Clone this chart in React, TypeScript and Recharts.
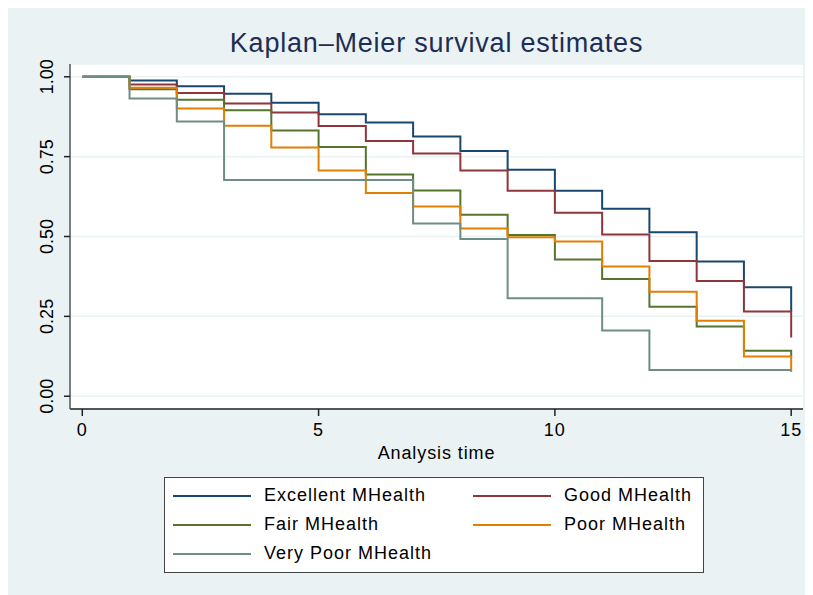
import { LineChart, Line, XAxis, YAxis, CartesianGrid } from 'recharts';

const times = [0, 1, 2, 3, 4, 5, 6, 7, 8, 9, 10, 11, 12, 13, 14, 15];

const excellent = [1, 0.988, 0.97, 0.947, 0.919, 0.883, 0.857, 0.813, 0.768, 0.709, 0.643, 0.587, 0.513, 0.422, 0.341, 0.265];
const good = [1, 0.976, 0.949, 0.916, 0.888, 0.846, 0.799, 0.76, 0.707, 0.643, 0.574, 0.506, 0.423, 0.361, 0.265, 0.184];
const fair = [1, 0.961, 0.928, 0.895, 0.832, 0.78, 0.694, 0.644, 0.568, 0.505, 0.428, 0.367, 0.28, 0.218, 0.142, 0.124];
const poor = [1, 0.966, 0.901, 0.847, 0.779, 0.707, 0.636, 0.594, 0.525, 0.498, 0.484, 0.406, 0.327, 0.236, 0.124, 0.076];
const veryPoor = [1, 0.932, 0.86, 0.677, 0.677, 0.677, 0.677, 0.541, 0.492, 0.307, 0.307, 0.206, 0.082, 0.082, 0.082, 0.082];

const xTicks = [0, 5, 10, 15];
const yTicks = [0, 0.25, 0.5, 0.75, 1];

const SERIES = [
  { key: 'excellent', name: 'Excellent MHealth', color: '#1A476F', values: excellent },
  { key: 'good', name: 'Good MHealth', color: '#90353B', values: good },
  { key: 'fair', name: 'Fair MHealth', color: '#55752F', values: fair },
  { key: 'poor', name: 'Poor MHealth', color: '#E37E00', values: poor },
  { key: 'veryPoor', name: 'Very Poor MHealth', color: '#6E8E84', values: veryPoor },
];

const data = times.map((t, i) => {
  const row: Record<string, number> = { t };
  SERIES.forEach((s) => {
    row[s.key] = s.values[i];
  });
  return row;
});

const FONT = '"Liberation Sans", Arial, sans-serif';

const YTick = ({ x, y, payload }: any) => (
  <text
    x={x - 11}
    y={y}
    transform={`rotate(-90, ${x - 11}, ${y})`}
    textAnchor="middle"
    fontSize={18}
    fill="#000"
    fontFamily={FONT}
  >
    {Number(payload.value).toFixed(2)}
  </text>
);

const XTick = ({ x, y, payload }: any) => (
  <text x={x} y={y} dy="0.71em" textAnchor="middle" fontSize={18} fill="#000" fontFamily={FONT} letterSpacing={1}>
    {payload.value}
  </text>
);

// two columns per row, like the stata legend
const LegendRow = ({ items }: { items: typeof SERIES }) => (
  <div style={{ display: 'flex', height: 29, alignItems: 'center' }}>
    {items.map((s) => (
      <div key={s.key} style={{ display: 'flex', alignItems: 'center', width: 300, flexShrink: 0 }}>
        <div style={{ width: 78, height: 2, background: s.color, marginLeft: 8, marginRight: 13, flexShrink: 0 }} />
        <span style={{ fontSize: 18, letterSpacing: 1, color: '#000', whiteSpace: 'nowrap' }}>{s.name}</span>
      </div>
    ))}
  </div>
);

export default function App() {
  return (
    <div
      style={{
        position: 'relative',
        width: 805,
        height: 587,
        background: '#EAF2F3',
        fontFamily: FONT,
      }}
    >
      <div
        style={{
          position: 'absolute',
          left: 62,
          width: 733,
          top: 22,
          textAlign: 'center',
          fontSize: 27,
          lineHeight: '27px',
          letterSpacing: 0.8,
          color: '#1E2D53',
        }}
      >
        Kaplan–Meier survival estimates
      </div>
      <LineChart width={805} height={587} data={data} margin={{ top: 56, right: 10, bottom: 156, left: 0 }}>
        <CartesianGrid vertical={false} stroke="#EAF2F3" strokeWidth={1.5} fill="#ffffff" />
        <XAxis
          dataKey="t"
          type="number"
          domain={[-0.26, 15.25]}
          allowDataOverflow
          ticks={xTicks}
          tickSize={7}
          tickMargin={7}
          axisLine={{ stroke: '#222', strokeWidth: 1.5 }}
          tickLine={{ stroke: '#222', strokeWidth: 1.5 }}
          tick={<XTick />}
          height={30}
        />
        <YAxis
          type="number"
          domain={[-0.04, 1.04]}
          allowDataOverflow
          ticks={yTicks}
          width={62}
          tickSize={6}
          tickMargin={0}
          axisLine={{ stroke: '#555', strokeWidth: 1.5 }}
          tickLine={{ stroke: '#222', strokeWidth: 1.5 }}
          tick={<YTick />}
        />
        {SERIES.map((s) => (
          <Line
            key={s.key}
            type="stepAfter"
            dataKey={s.key}
            name={s.name}
            stroke={s.color}
            strokeWidth={2}
            dot={false}
            activeDot={false}
            isAnimationActive={false}
          />
        ))}
      </LineChart>
      <div
        style={{
          position: 'absolute',
          left: 62,
          width: 733,
          top: 436,
          textAlign: 'center',
          fontSize: 18,
          lineHeight: '18px',
          letterSpacing: 0.9,
          color: '#000',
        }}
      >
        Analysis time
      </div>
      <div
        style={{
          position: 'absolute',
          left: 156,
          top: 469,
          width: 538,
          height: 91,
          background: '#fff',
          border: '1px solid #444',
          paddingTop: 3,
          boxSizing: 'content-box',
          overflow: 'hidden',
        }}
      >
        <LegendRow items={SERIES.slice(0, 2)} />
        <LegendRow items={SERIES.slice(2, 4)} />
        <LegendRow items={SERIES.slice(4)} />
      </div>
    </div>
  );
}
